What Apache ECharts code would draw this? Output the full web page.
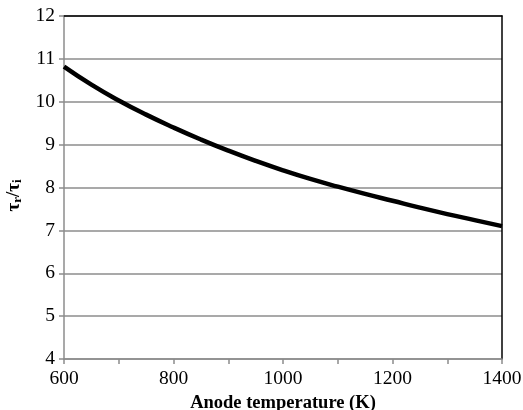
<!DOCTYPE html>
<html>
<head>
<meta charset="utf-8">
</head>
<body style="margin:0">
<div style="width: 523px;height: 410px;" id="chart"></div>
<script src="https://cdn.jsdelivr.net/npm/echarts@6/dist/echarts.min.js"></script>
<script>

let chart = echarts.init(document.getElementById('chart'));

// anode temperature (K) and tau ratio
let temps = [600, 650, 700, 750, 800, 850, 900, 950, 1000, 1050, 1100, 1150, 1200, 1250, 1300, 1350, 1400];
let ratio = [10.82, 10.40, 10.03, 9.70, 9.40, 9.12, 8.86, 8.62, 8.40, 8.20, 8.02, 7.85, 7.69, 7.53, 7.38, 7.24, 7.10];
let xTickLabels = [600, 800, 1000, 1200, 1400];

let data = temps.map((t, i) => [t, ratio[i]]);

let font = 'Liberation Serif';

let option = {
    animation: false,
    grid: {left: 64, right: 21, top: 16, bottom: 51, containLabel: false, outerBoundsMode: 'none'},
    xAxis: [{
        type: 'value',
        min: 600,
        max: 1400,
        interval: 100,
        axisLine: {lineStyle: {color: '#8c8c8c', width: 1.5}},
        axisTick: {length: 5, lineStyle: {color: '#8c8c8c', width: 1.5}},
        splitLine: {show: false},
        axisLabel: {
            fontFamily: font, fontSize: 19.5, color: '#000', margin: 10,
            formatter: v => xTickLabels.indexOf(v) >= 0 ? String(v) : ''
        },
        name: 'Anode temperature (K)',
        nameLocation: 'middle',
        nameGap: 33,
        nameTextStyle: {fontFamily: font, fontSize: 18.5, fontWeight: 'bold', color: '#000'}
    }, {
        type: 'value',
        position: 'top',
        min: 600,
        max: 1400,
        axisLine: {show: true, lineStyle: {color: '#000', width: 1.5}},
        axisTick: {show: false},
        axisLabel: {show: false},
        splitLine: {show: false}
    }],
    yAxis: [{
        type: 'value',
        min: 4,
        max: 12,
        interval: 1,
        axisLine: {show: true, lineStyle: {color: '#8c8c8c', width: 1.5}},
        axisTick: {show: true, length: 5, lineStyle: {color: '#8c8c8c', width: 1.5}},
        splitLine: {lineStyle: {color: '#8c8c8c', width: 1.5}},
        axisLabel: {fontFamily: font, fontSize: 19.5, color: '#000', margin: 9},
        name: '{a|τ}{s|r}{a|/τ}{s|i}',
        nameLocation: 'middle',
        nameRotate: 90,
        nameGap: 39,
        nameTextStyle: {
            padding: [0, 16, 0, 0],
            rich: {
                a: {fontFamily: font, fontSize: 19, fontWeight: 'bold', color: '#000'},
                s: {fontFamily: font, fontSize: 13, fontWeight: 'bold', color: '#000', padding: [9, 0, 0, 0]}
            }
        }
    }, {
        type: 'value',
        position: 'right',
        min: 4,
        max: 12,
        axisLine: {show: true, lineStyle: {color: '#000', width: 1.5}},
        axisTick: {show: false},
        axisLabel: {show: false},
        splitLine: {show: false}
    }],
    series: [{
        type: 'line',
        data: data,
        smooth: true,
        showSymbol: false,
        lineStyle: {color: '#000', width: 4.5}
    }]
};

chart.setOption(option);

</script>
</body>
</html>
